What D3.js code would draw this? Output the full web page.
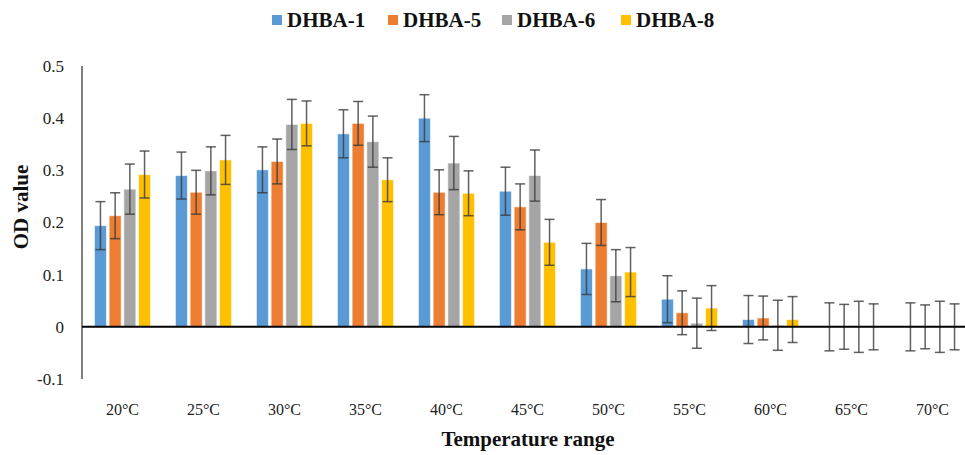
<!DOCTYPE html>
<html><head><meta charset="utf-8">
<script src="https://cdn.jsdelivr.net/npm/d3@7/dist/d3.min.js"></script>
<style>body{margin:0;background:#fff}svg{display:block}</style>
</head><body>
<svg id="chart" width="965" height="455"></svg>
<script>
const categories = ["20°C","25°C","30°C","35°C","40°C","45°C","50°C","55°C","60°C","65°C","70°C"];
const seriesNames = ["DHBA-1","DHBA-5","DHBA-6","DHBA-8"];
const dhba1 = [0.194,0.290,0.301,0.370,0.400,0.260,0.111,0.053,0.014,0,0];
const err1  = [0.046,0.045,0.044,0.046,0.045,0.046,0.049,0.045,0.046,0.046,0.046];
const dhba5 = [0.213,0.258,0.317,0.390,0.258,0.230,0.200,0.027,0.017,0,0];
const err5  = [0.044,0.042,0.043,0.042,0.043,0.044,0.044,0.042,0.042,0.043,0.042];
const dhba6 = [0.264,0.299,0.388,0.355,0.314,0.290,0.098,0.007,0.003,0,0];
const err6  = [0.048,0.046,0.048,0.049,0.051,0.049,0.050,0.048,0.048,0.049,0.049];
const dhba8 = [0.292,0.320,0.390,0.282,0.256,0.162,0.105,0.036,0.014,0,0];
const err8  = [0.045,0.047,0.043,0.042,0.043,0.044,0.047,0.043,0.044,0.044,0.044];
const yTicks = [-0.1,0,0.1,0.2,0.3,0.4,0.5];
const yTickLabels = ["-0.1","0","0.1","0.2","0.3","0.4","0.5"];
const colors = ["#5B9BD5","#ED7D31","#A5A5A5","#FFC000"];

const values = [dhba1,dhba5,dhba6,dhba8];
const errors = [err1,err5,err6,err8];

const svg = d3.select("#chart");
const x0 = d3.scaleBand().domain(categories).range([82, 973]).padding(0);
const bw = x0.bandwidth();
const x1 = d3.scaleBand().domain(seriesNames).range([bw*0.137, bw*0.863]).paddingInner(0.18).paddingOuter(0.09);
const y = d3.scaleLinear().domain([-0.1, 0.5]).range([379, 66]);

const serif = "'Liberation Serif','Times New Roman',serif";

// y tick labels
svg.append("g").selectAll("text").data(yTicks).join("text")
  .attr("x", 64).attr("y", d => y(d)).attr("dy", "0.35em")
  .attr("text-anchor", "end").attr("font-family", serif).attr("font-size", 17).attr("fill", "#222")
  .text((d, i) => yTickLabels[i]);

// y axis line
svg.append("line").attr("x1", 82).attr("x2", 82).attr("y1", y(0.5)).attr("y2", y(-0.1))
  .attr("stroke", "#000").attr("stroke-width", 1);

// bars
const groups = svg.append("g").selectAll("g").data(categories).join("g")
  .attr("transform", d => `translate(${x0(d)},0)`);

seriesNames.forEach((s, si) => {
  groups.append("rect")
    .attr("x", x1(s)).attr("width", x1.bandwidth())
    .attr("y", (d, i) => y(Math.max(0, values[si][i])))
    .attr("height", (d, i) => Math.abs(y(values[si][i]) - y(0)))
    .attr("fill", colors[si]).attr("stroke", "#fff").attr("stroke-opacity", 0.6).attr("stroke-width", 1);
});

// zero line
svg.append("line").attr("x1", 82).attr("x2", 965).attr("y1", y(0)).attr("y2", y(0))
  .attr("stroke", "#000").attr("stroke-width", 2);

// error bars
seriesNames.forEach((s, si) => {
  const eg = groups.append("g").attr("stroke", "#3a3a3a").attr("stroke-opacity", 0.8).attr("stroke-width", 1.5);
  const cx = x1(s) + x1.bandwidth() / 2;
  eg.append("line").attr("x1", cx).attr("x2", cx)
    .attr("y1", (d, i) => y(values[si][i] + errors[si][i]))
    .attr("y2", (d, i) => y(values[si][i] - errors[si][i]));
  eg.append("line").attr("x1", cx - 5).attr("x2", cx + 5)
    .attr("y1", (d, i) => y(values[si][i] + errors[si][i]))
    .attr("y2", (d, i) => y(values[si][i] + errors[si][i]));
  eg.append("line").attr("x1", cx - 5).attr("x2", cx + 5)
    .attr("y1", (d, i) => y(values[si][i] - errors[si][i]))
    .attr("y2", (d, i) => y(values[si][i] - errors[si][i]));
});

// x labels
svg.append("g").selectAll("text").data(categories).join("text")
  .attr("x", d => x0(d) + bw / 2).attr("y", 415)
  .attr("text-anchor", "middle").attr("font-family", serif).attr("font-size", 16).attr("fill", "#222")
  .text(d => d);

// axis titles
svg.append("text").attr("x", 528).attr("y", 446).attr("text-anchor", "middle")
  .attr("font-family", serif).attr("font-size", 21).attr("font-weight", "bold").attr("fill", "#111")
  .text("Temperature range");
svg.append("text").attr("transform", "translate(28,207) rotate(-90)").attr("text-anchor", "middle")
  .attr("font-family", serif).attr("font-size", 21).attr("font-weight", "bold").attr("fill", "#111")
  .text("OD value");

// legend
const legendX = [272, 388, 502, 621];
const lg = svg.append("g").selectAll("g").data(seriesNames).join("g")
  .attr("transform", (d, i) => `translate(${legendX[i]},0)`);
lg.append("rect").attr("x", 0).attr("y", 15).attr("width", 10).attr("height", 10)
  .attr("fill", (d, i) => colors[i]);
lg.append("text").attr("x", 15).attr("y", 27)
  .attr("font-family", serif).attr("font-size", 21).attr("font-weight", "bold").attr("fill", "#111")
  .text(d => d);
</script>
</body></html>
